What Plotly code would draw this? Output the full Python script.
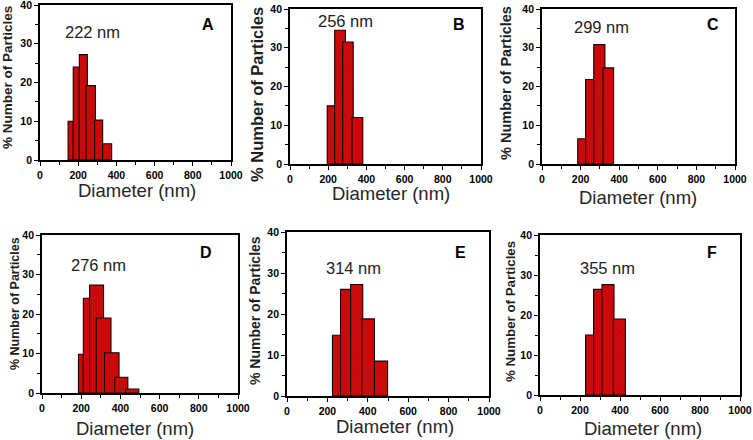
import plotly.graph_objects as go

# ---- data (diameter bins in nm, % number of particles) ----
panel_labels = ["A", "B", "C", "D", "E", "F"]
mean_sizes = ["222 nm", "256 nm", "299 nm", "276 nm", "314 nm", "355 nm"]

a_bin_start = [147, 174, 206, 241, 286, 328]
a_bin_end = [174, 206, 248, 290, 328, 375]
a_values = [10, 24, 27.2, 19.2, 10.3, 4.2]

b_bin_start = [195, 234, 276, 325]
b_bin_end = [234, 290, 331, 381]
b_values = [15, 34.5, 31.5, 12]

c_bin_start = [185, 226, 268, 316]
c_bin_end = [226, 268, 326, 371]
c_values = [6.5, 21.8, 30.8, 24.8]

d_bin_start = [186, 211, 243, 277, 319, 371, 426]
d_bin_end = [211, 246, 314, 352, 393, 438, 494]
d_values = [9.8, 24, 27.3, 19, 10.2, 4, 1]

e_bin_start = [225, 265, 315, 370, 433]
e_bin_end = [270, 318, 375, 433, 498]
e_values = [14.8, 26, 27.2, 18.8, 8.5]

f_bin_start = [228, 268, 310, 367]
f_bin_end = [270, 314, 370, 427]
f_values = [15, 26.4, 27.6, 19]

x_tick_vals = [0, 200, 400, 600, 800, 1000]
y_tick_vals = [0, 10, 20, 30, 40]

W, H = 753, 440

# plot-area boxes in pixels: (left, right, top, bottom)
boxes = [
    (40, 231, 5, 160),
    (290, 481, 9, 164),
    (542, 735, 9, 164),
    (42, 238, 235, 393),
    (287, 489, 232, 396),
    (540, 740, 235, 395),
]
# annotation pixel positions (centres)
size_pos = [(92, 32), (345, 21), (601, 27), (98, 265), (353, 268), (607, 268)]
letter_pos = [(208, 25), (459, 25), (713, 25), (206, 252), (460, 252), (712, 252)]
xtitle_pos = [(137, 190), (391, 193), (638, 197), (135, 428), (395, 426), (643, 428)]
ytitle_pos = [(8, 78), (257, 95), (506, 83), (15, 304), (255, 310), (510, 311)]
ytitle_size = [13.5, 16.5, 14.5, 12.5, 14, 13.3]

series = [
    (a_bin_start, a_bin_end, a_values),
    (b_bin_start, b_bin_end, b_values),
    (c_bin_start, c_bin_end, c_values),
    (d_bin_start, d_bin_end, d_values),
    (e_bin_start, e_bin_end, e_values),
    (f_bin_start, f_bin_end, f_values),
]

FONT = "Liberation Sans, Arial, sans-serif"
fig = go.Figure()
layout = dict(
    width=W, height=H, margin=dict(l=0, r=0, t=0, b=0, autoexpand=False),
    paper_bgcolor="white", plot_bgcolor="white",
    showlegend=False, barmode="overlay", annotations=[],
    font=dict(family=FONT, color="black"),
)

def px(x):
    return x / W

def py(y):
    return 1 - y / H

def note(text, pos, size, color, angle=0):
    return dict(text=text, x=px(pos[0]), y=py(pos[1]), xref="paper", yref="paper",
                xanchor="center", yanchor="middle", showarrow=False, textangle=angle,
                font=dict(family=FONT, size=size, color=color))

for i, (starts, ends, vals) in enumerate(series):
    n = i + 1
    xa = "x" if n == 1 else f"x{n}"
    ya = "y" if n == 1 else f"y{n}"
    centers = [(s + e) / 2 for s, e in zip(starts, ends)]
    widths = [e - s for s, e in zip(starts, ends)]
    fig.add_trace(go.Bar(
        x=centers, y=vals, width=widths, xaxis=xa, yaxis=ya,
        marker=dict(color="#cc0a0a", line=dict(color="#1a0000", width=1.1),
                    pattern=dict(shape="/", fgcolor="#9a0000", size=5, solidity=0.12)),
        hoverinfo="skip",
    ))
    l, r, t, b = boxes[i]
    common = dict(showline=True, linecolor="black", linewidth=1.8, mirror=True,
                  showgrid=False, zeroline=False, ticks="outside", ticklen=4,
                  tickwidth=1, tickcolor="black", automargin=False,
                  ticklabeloverflow="allow",
                  tickfont=dict(family=FONT, size=10.5, color="black", weight="bold"))
    layout["xaxis" if n == 1 else f"xaxis{n}"] = dict(
        domain=[px(l), px(r)], anchor=ya, range=[0, 1000],
        tickvals=x_tick_vals, ticktext=[str(v) for v in x_tick_vals],
        minor=dict(dtick=100, tick0=0, ticks="outside", ticklen=3, tickcolor="black"),
        **common)
    layout["yaxis" if n == 1 else f"yaxis{n}"] = dict(
        domain=[py(b), py(t)], anchor=xa, range=[0, 40],
        tickvals=y_tick_vals, ticktext=[str(v) for v in y_tick_vals],
        minor=dict(dtick=5, tick0=0, ticks="outside", ticklen=3, tickcolor="black"),
        **common)
    ann = layout["annotations"]
    ann.append(note(mean_sizes[i], size_pos[i], 16.5, "#222222"))
    ann.append(note(f"<b>{panel_labels[i]}</b>", letter_pos[i], 16, "black"))
    ann.append(note("Diameter (nm)", xtitle_pos[i], 18.5, "#262626"))
    ann.append(note("<b>% Number of Particles</b>", ytitle_pos[i], ytitle_size[i], "#1e1e1e", -90))

fig.update_layout(**layout)
fig.write_html("out.html", config={"displayModeBar": False},
               post_script="document.body.style.margin='0';document.body.style.overflow='hidden';")
